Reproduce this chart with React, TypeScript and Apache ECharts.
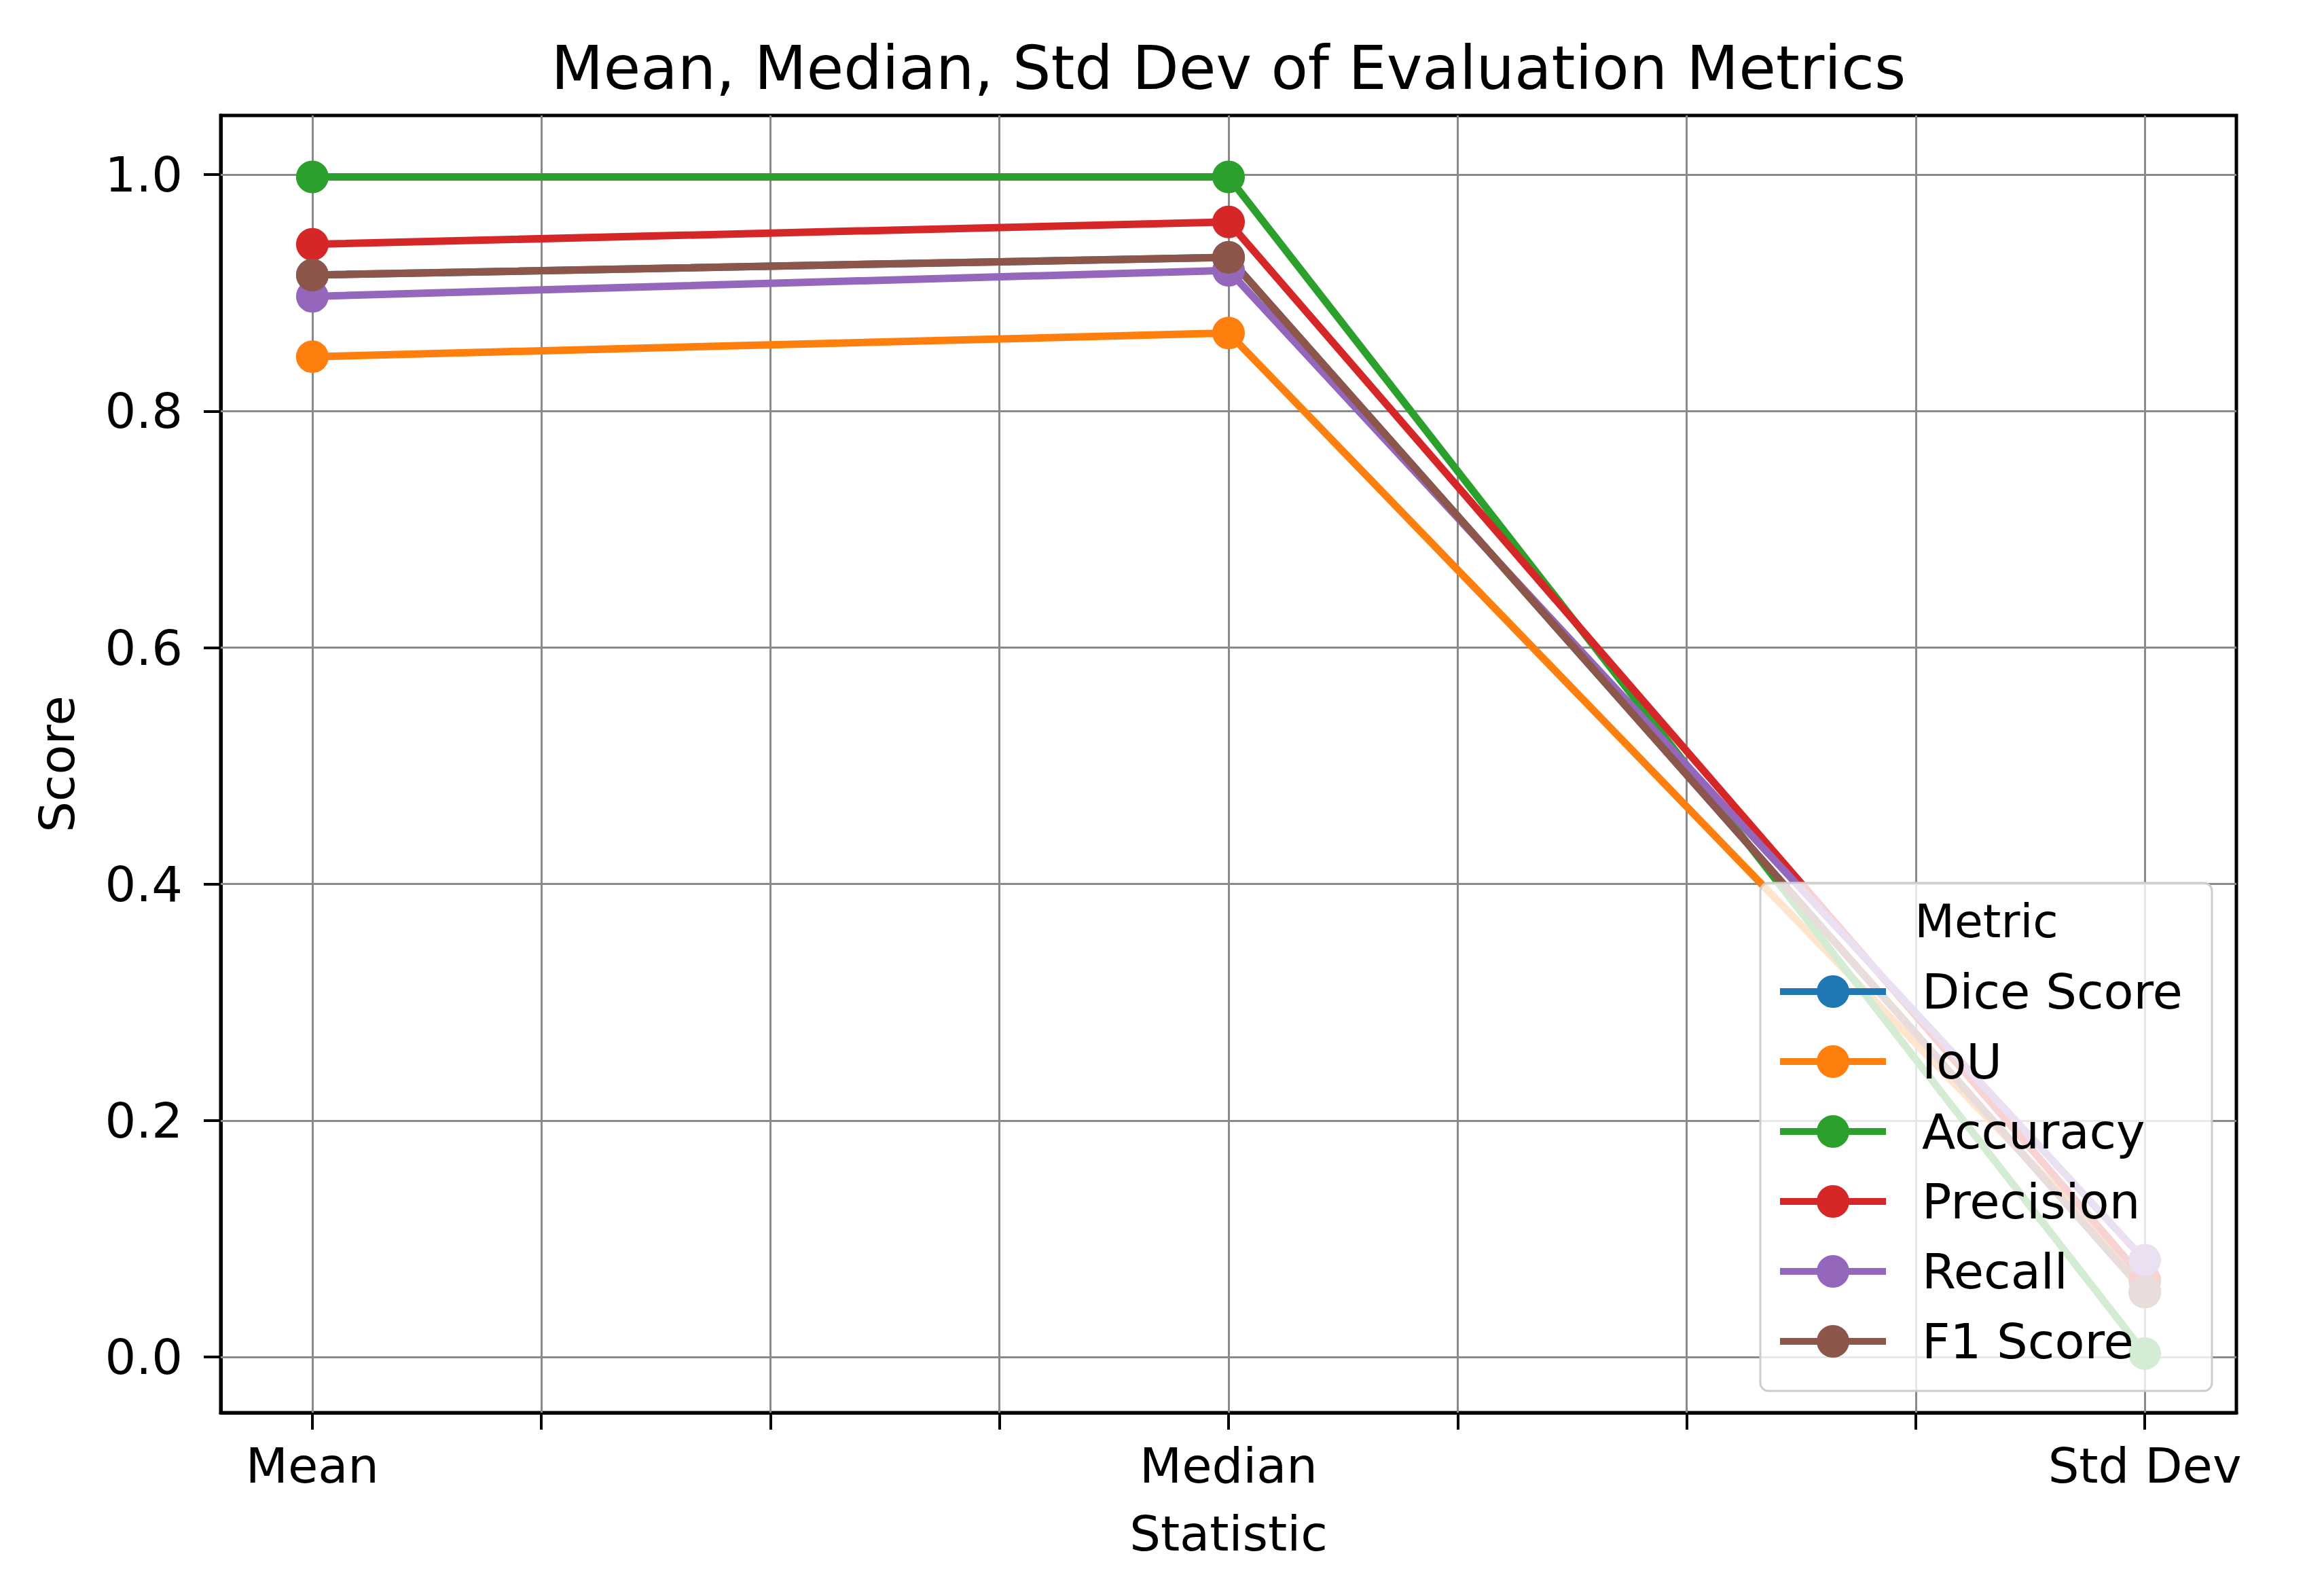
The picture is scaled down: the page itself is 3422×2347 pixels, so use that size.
import React, { useEffect, useRef } from "react";
import * as echarts from "echarts";

const statistics = ["Mean", "Median", "Std Dev"];
const metricNames = ["Dice Score", "IoU", "Accuracy", "Precision", "Recall", "F1 Score"];
const metricColors = ["#1f77b4", "#ff7f0e", "#2ca02c", "#d62728", "#9467bd", "#8c564b"];
const diceScore = [0.915, 0.93, 0.055];
const iou = [0.846, 0.866, 0.065];
const accuracy = [0.998, 0.998, 0.003];
const precision = [0.941, 0.96, 0.065];
const recall = [0.897, 0.919, 0.082];
const f1Score = [0.915, 0.93, 0.055];
const xTickValues = [0, 0.25, 0.5, 0.75, 1, 1.25, 1.5, 1.75, 2];
const xLabelValues = [0, 1, 2];
const yTickValues = [0, 0.2, 0.4, 0.6, 0.8, 1.0];

const FONT = "DejaVu Sans";

export default function App() {
  const ref = useRef<HTMLDivElement>(null);
  useEffect(() => {
    if (!ref.current) return;
    const chart = echarts.init(ref.current, undefined, { renderer: "svg" });
    const allValues = [diceScore, iou, accuracy, precision, recall, f1Score];
    const gridLines = [
      ...xTickValues.map((v) => ({ xAxis: v })),
      ...yTickValues.map((v) => ({ yAxis: v })),
    ];
    const series: any[] = metricNames.map((name, i) => ({
      name,
      type: "line",
      data: allValues[i].map((v, j) => [j, v]),
      symbol: "circle",
      symbolSize: 48,
      lineStyle: { width: 11, color: metricColors[i] },
      itemStyle: { color: metricColors[i] },
      color: metricColors[i],
      emphasis: { disabled: true },
      z: 2,
      ...(i === 0
        ? {
            markLine: {
              silent: true,
              z: 1,
              symbol: "none",
              label: { show: false },
              emphasis: { disabled: true },
              lineStyle: { color: "#8a8a8a", width: 3, type: "solid" },
              data: gridLines,
              animation: false,
            },
          }
        : {}),
    }));

    chart.setOption({
      animation: false,
      backgroundColor: "#ffffff",
      grid: {
        left: 325,
        right: 3422 - 3293,
        top: 170,
        bottom: 2347 - 2080,
        show: true,
        borderColor: "#000",
        borderWidth: 5,
        backgroundColor: "transparent",
      },
      xAxis: {
        type: "value",
        min: -0.1,
        max: 2.1,
        name: "Statistic",
        nameLocation: "middle",
        nameGap: 142,
        nameTextStyle: { fontFamily: FONT, fontSize: 72, color: "#000" },
        axisLine: { show: true, onZero: false, lineStyle: { color: "#000", width: 5 } },
        axisTick: { show: true, inside: false, length: 25, lineStyle: { color: "#000", width: 4 }, customValues: xTickValues },
        axisLabel: {
          customValues: xLabelValues,
          margin: 42,
          fontFamily: FONT,
          fontSize: 72,
          color: "#000",
          formatter: (v: number) => statistics[Math.round(v)] ?? "",
        },
        splitLine: { show: false },
      },
      yAxis: {
        type: "value",
        min: -0.047,
        max: 1.05,
        name: "Score",
        nameLocation: "middle",
        nameGap: 205,
        nameTextStyle: { fontFamily: FONT, fontSize: 72, color: "#000" },
        axisLine: { show: true, onZero: false, lineStyle: { color: "#000", width: 5 } },
        axisTick: { show: true, inside: false, length: 25, lineStyle: { color: "#000", width: 4 }, customValues: yTickValues },
        axisLabel: {
          customValues: yTickValues,
          margin: 56,
          fontFamily: FONT,
          fontSize: 72,
          color: "#000",
          formatter: (v: number) => v.toFixed(1),
        },
        splitLine: { show: false },
      },
      legend: {
        data: metricNames,
        orient: "vertical",
        left: 2616,
        top: 1424,
        padding: 0,
        itemWidth: 156,
        itemHeight: 60,
        itemGap: 31,
        z: 11,
        selectedMode: false,
        lineStyle: { width: 10 },
        textStyle: { fontFamily: FONT, fontSize: 72, color: "#000", padding: [0, 0, 0, 48] },
      },
      graphic: [
        {
          type: "text",
          x: 1809,
          y: 100,
          z: 11,
          style: {
            text: "Mean, Median, Std Dev of Evaluation Metrics",
            fontFamily: FONT,
            fontSize: 89,
            fill: "#000",
            textAlign: "center",
            textVerticalAlign: "middle",
          },
        },
        {
          type: "rect",
          z: 10,
          shape: { x: 2592, y: 1300, width: 665, height: 748, r: 12 },
          style: { fill: "rgba(255,255,255,0.8)", stroke: "#cccccc", lineWidth: 3 },
        },
        {
          type: "text",
          x: 2925,
          y: 1356,
          z: 11,
          style: {
            text: "Metric",
            fontFamily: FONT,
            fontSize: 68,
            fill: "#000",
            textAlign: "center",
            textVerticalAlign: "middle",
          },
        },
      ],
      series,
    });
    return () => chart.dispose();
  }, []);
  return (
    <div
      ref={ref}
      style={{ position: "fixed", left: 0, top: 0, width: 3422, height: 2347 }}
    />
  );
}
